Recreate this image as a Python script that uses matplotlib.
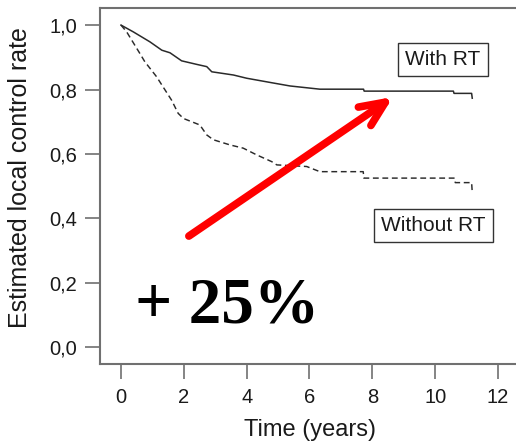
import matplotlib
import matplotlib.pyplot as plt

matplotlib.use("Agg")

# Kaplan-Meier style curves
with_rt_time = [0, 0.39, 0.92, 1.30, 1.56, 1.93, 2.41, 2.73, 2.89, 3.58, 4.0, 4.80,
                5.38, 6.33, 7.72, 7.74, 10.58, 10.60, 11.16, 11.18]
with_rt_rate = [1.0, 0.979, 0.948, 0.922, 0.914, 0.889, 0.878, 0.871, 0.855, 0.845, 0.835,
                0.821, 0.811, 0.801, 0.801, 0.795, 0.795, 0.788, 0.788, 0.773]

without_rt_time = [0, 0.18, 0.60, 0.76, 1.13, 1.61, 1.82, 1.99, 2.51, 2.73, 2.94, 3.47,
                   3.89, 4.32, 4.80, 4.96, 5.91, 6.33, 7.71, 7.73, 10.62, 10.64, 11.16, 11.18]
without_rt_rate = [1.0, 0.979, 0.912, 0.886, 0.840, 0.767, 0.726, 0.710, 0.690, 0.659,
                   0.644, 0.628, 0.618, 0.597, 0.576, 0.566, 0.561, 0.545, 0.545, 0.525,
                   0.525, 0.511, 0.511, 0.481]

x_ticks = [0, 2, 4, 6, 8, 10, 12]
y_ticks = [0.0, 0.2, 0.4, 0.6, 0.8, 1.0]
y_tick_labels = ["0,0", "0,2", "0,4", "0,6", "0,8", "1,0"]

arrow_start = (2.16, 0.345)
arrow_end = (8.66, 0.777)

LINE_COLOR = "#2a2a2a"
AXIS_COLOR = "#707070"
TEXT_COLOR = "#1a1a1a"

plt.rcParams["font.family"] = ["Liberation Sans", "DejaVu Sans"]

W, H = 516, 444
fig = plt.figure(figsize=(W / 100, H / 100), dpi=100)
ax = fig.add_axes([100 / W, (H - 364) / H, 420 / W, 356 / H])

ax.plot(with_rt_time, with_rt_rate, color=LINE_COLOR, linewidth=1.1)
ax.plot(without_rt_time, without_rt_rate, color=LINE_COLOR, linewidth=1.05,
        linestyle=(0, (4, 2.5)))

ax.set_xlim(-0.668, 12.70)
ax.set_ylim(-0.052, 1.053)
ax.set_xticks(x_ticks)
ax.set_xticklabels([str(t) for t in x_ticks])
ax.set_yticks(y_ticks)
ax.set_yticklabels(y_tick_labels)
ax.tick_params(axis="both", direction="out", length=10.5, width=1.2,
               color=AXIS_COLOR, labelsize=14.5, labelcolor=TEXT_COLOR)
ax.tick_params(axis="x", pad=7)
ax.tick_params(axis="y", pad=6)
for side in ["left", "bottom", "top"]:
    ax.spines[side].set_color(AXIS_COLOR)
    ax.spines[side].set_linewidth(1.5)
ax.spines["right"].set_visible(False)

box = dict(boxstyle="square,pad=0.35", facecolor="white", edgecolor="#333333", linewidth=1.0)
ax.text((443 - 121) / 31.42, (347.3 - 59.5) / 322.3, "With RT",
        fontsize=15, ha="center", va="center", color=TEXT_COLOR, bbox=box)
ax.text((433.5 - 121) / 31.42, (347.3 - 225.5) / 322.3, "Without RT",
        fontsize=15, ha="center", va="center", color=TEXT_COLOR, bbox=box)

ax.annotate("", xy=arrow_end, xytext=arrow_start,
            arrowprops=dict(arrowstyle="->,head_length=0.9,head_width=0.4",
                            mutation_scale=20, color="red", lw=5.5,
                            shrinkA=0, shrinkB=0, capstyle="round", joinstyle="round"))

fig.text(227 / W, 1 - 322 / H, "+ 25%", fontsize=47, fontweight="bold",
         family="Liberation Serif", ha="center", va="baseline", color="black")

fig.text(20 / W, 1 - 178 / H, "Estimated local control rate", rotation=90,
         fontsize=18, ha="center", va="center", color=TEXT_COLOR)
fig.text(310 / W, 1 - 430 / H, "Time (years)", fontsize=17,
         ha="center", va="center", color=TEXT_COLOR)

fig.savefig("out.png", dpi=100)
